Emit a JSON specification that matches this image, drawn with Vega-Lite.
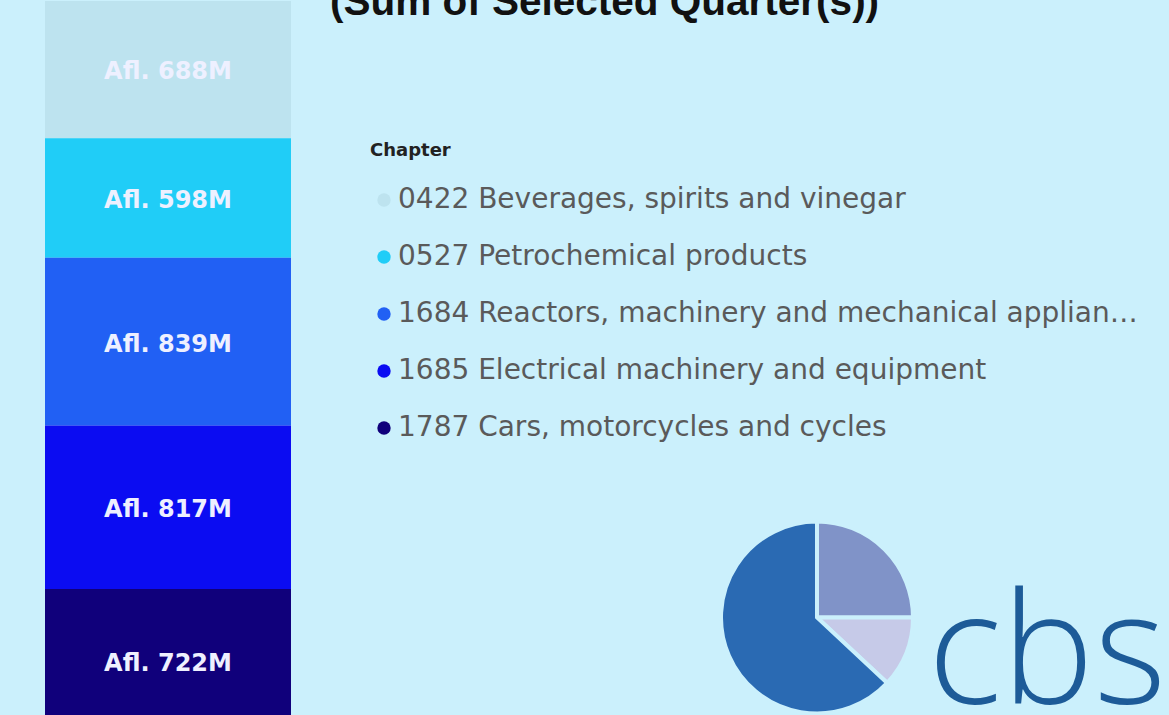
{
  "$schema": "https://vega.github.io/schema/vega-lite/v6.json",
  "background": "#cbf0fc",
  "padding": {"left": 45, "top": -18, "right": 0, "bottom": 0},
  "bounds": "flush",
  "spacing": 174,
  "title": {
    "text": "(Sum of Selected Quarter(s))",
    "anchor": "start",
    "frame": "group",
    "dx": 285,
    "offset": -54,
    "baseline": "alphabetic",
    "font": "Liberation Sans",
    "fontWeight": "bold",
    "fontSize": 40.5,
    "color": "#111111"
  },
  "resolve": {"scale": {"color": "independent"}, "legend": {"color": "independent"}},
  "config": {"view": {"stroke": null}, "font": "DejaVu Sans"},
  "hconcat": [
    {
      "width": 246,
      "height": 715,
      "data": {
        "values": [
          {"chapter": "0422 Beverages, spirits and vinegar", "value": 688, "label": "Afl. 688M"},
          {"chapter": "0527 Petrochemical products", "value": 598, "label": "Afl. 598M"},
          {"chapter": "1684 Reactors, machinery and mechanical appliances", "value": 839, "label": "Afl. 839M"},
          {"chapter": "1685 Electrical machinery and equipment", "value": 817, "label": "Afl. 817M"},
          {"chapter": "1787 Cars, motorcycles and cycles", "value": 722, "label": "Afl. 722M"}
        ]
      },
      "transform": [
        {"stack": "value", "groupby": [], "sort": [{"field": "chapter", "order": "descending"}], "as": ["v0", "v1"]}
      ],
      "encoding": {
        "x": {"datum": "Total", "type": "nominal", "axis": null, "scale": {"paddingInner": 0, "paddingOuter": 0}}
      },
      "layer": [
        {
          "mark": {"type": "bar", "clip": true},
          "encoding": {
            "y": {"field": "v0", "type": "quantitative", "axis": null, "scale": {"domain": [87, 3662], "zero": false, "nice": false}},
            "y2": {"field": "v1"},
            "color": {
              "field": "chapter",
              "type": "nominal",
              "scale": {
                "domain": [
                  "0422 Beverages, spirits and vinegar",
                  "0527 Petrochemical products",
                  "1684 Reactors, machinery and mechanical appliances",
                  "1685 Electrical machinery and equipment",
                  "1787 Cars, motorcycles and cycles"
                ],
                "range": ["#bde3ef", "#20cdf7", "#2160f4", "#0b0cf2", "#10007b"]
              },
              "legend": {
                "orient": "none",
                "legendX": 325,
                "legendY": 141,
                "title": "Chapter",
                "titleFont": "DejaVu Sans",
                "titleFontWeight": "bold",
                "titleFontSize": 18,
                "titleColor": "#222222",
                "titlePadding": 26,
                "labelFont": "DejaVu Sans",
                "labelFontSize": 28,
                "labelColor": "#5a5a5a",
                "labelLimit": 742,
                "labelOffset": 0,
                "symbolType": "circle",
                "symbolSize": 180,
                "symbolStrokeWidth": 0,
                "rowPadding": 29,
                "padding": 0
              }
            }
          }
        },
        {
          "transform": [
            {"fold": ["v0", "v1"], "as": ["edge", "pos"]},
            {"aggregate": [{"op": "mean", "field": "pos", "as": "mid"}], "groupby": ["chapter", "label"]}
          ],
          "mark": {"type": "text", "clip": true, "font": "DejaVu Sans", "fontWeight": "bold", "fontSize": 24, "color": "#eef0ff", "baseline": "middle", "align": "center", "dy": 3},
          "encoding": {
            "y": {"field": "mid", "type": "quantitative", "axis": null, "scale": {"domain": [87, 3662], "zero": false, "nice": false}},
            "text": {"field": "label"}
          }
        }
      ]
    },
    {
      "width": 704,
      "height": 715,
      "layer": [
        {
          "data": {"values": [
            {"part": "a", "share": 90},
            {"part": "b", "share": 43},
            {"part": "c", "share": 227}
          ]},
          "mark": {"type": "arc", "outerRadius": 96, "stroke": "#cbf0fc", "strokeWidth": 4, "yOffset": 259},
          "encoding": {
            "theta": {"field": "share", "type": "quantitative"},
            "color": {"field": "part", "type": "nominal", "legend": null, "scale": {"domain": ["a", "b", "c"], "range": ["#8093c8", "#c6cae8", "#2a6ab3"]}}
          }
        },
        {
          "data": {"values": [{"brand": "cbs"}]},
          "mark": {"type": "text", "clip": true, "font": "Open Sans", "fontWeight": 300, "fontSize": 155, "color": "#1d5b98", "align": "left", "baseline": "alphabetic", "dx": 111, "dy": 344},
          "encoding": {"text": {"field": "brand"}}
        }
      ]
    }
  ]
}
